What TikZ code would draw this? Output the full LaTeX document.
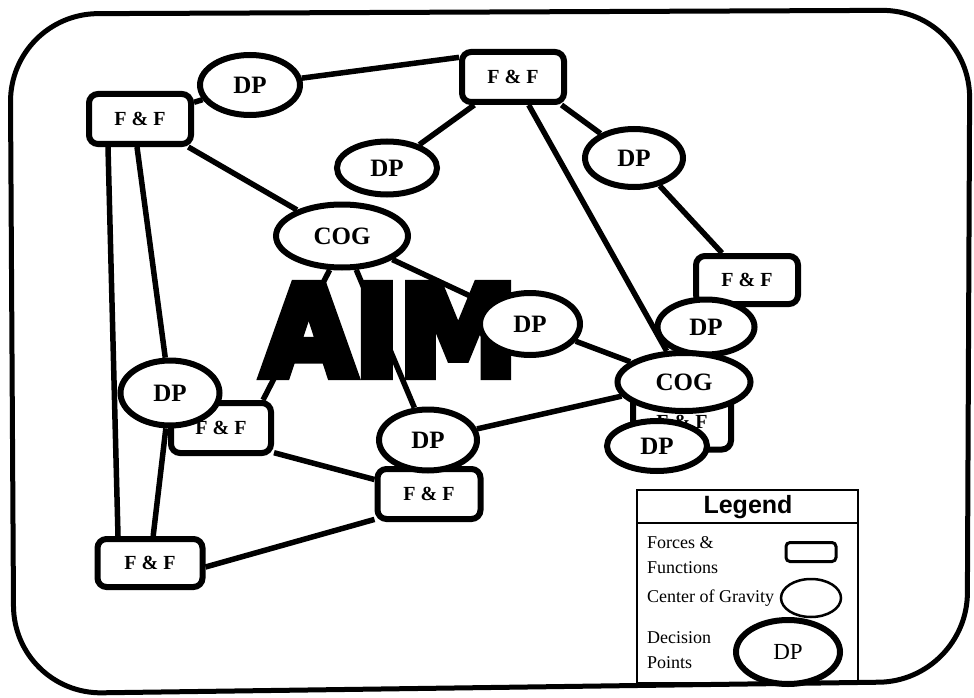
\documentclass[tikz,border=0pt]{standalone}
\usepackage{fontspec}
\setmainfont{Liberation Serif}
\newfontfamily\legendfont{Liberation Sans}
\newfontfamily\aimfont{DejaVu Sans}[BoldFeatures={FakeBold=8}]
\usetikzlibrary{shapes.geometric,backgrounds}

\tikzset{
  ff/.style={draw, line width=6pt, rounded corners=9pt, fill=white, minimum width=102pt,
    minimum height=50pt, inner sep=0pt, font=\fontsize{20}{24}\selectfont\bfseries},
  dp/.style={ellipse, draw, line width=6pt, fill=white, minimum width=100pt,
    minimum height=60pt, inner sep=0pt, font=\fontsize{25}{30}\selectfont\bfseries},
  cog/.style={dp, minimum width=132pt, minimum height=63pt},
  link/.style={line width=5.5pt},
  aimtext/.style={inner sep=0pt, font=\aimfont\bfseries\fontsize{124}{124}\selectfont},
  legtext/.style={inner sep=0pt, anchor=west, align=left, font=\fontsize{18}{25}\selectfont},
}

\begin{document}
\begin{tikzpicture}[x=1pt, y=-1pt]
\useasboundingbox (0,0) rectangle (974,698);

% nodes
\node[ff] (ff1) at (140,119) {F \& F};
\node[dp] (dp1) at (250,85) {DP};
\node[ff] (ff2) at (513,77) {F \& F};
\node[dp, minimum height=53pt] (dp2) at (387,168) {DP};
\node[cog] (cog1) at (342,236) {COG};
\node[dp, minimum width=98pt, minimum height=58pt] (dp3) at (634,158) {DP};
\node[ff, minimum height=48pt] (ff3) at (747,280) {F \& F};
\node[dp, minimum width=97pt, minimum height=55pt] (dp3b) at (706,327) {DP};
\node[ff, minimum width=98pt, minimum height=55pt] (ff4) at (682,422) {F \& F};
\node[cog, minimum width=133pt, minimum height=58pt] (cog2) at (684,382) {COG};
\node[dp, minimum height=50pt] (dp4) at (657,446) {DP};
\node[aimtext] (aim) at (390,330) {\scalebox{0.96}[1]{AIM}};
\node[dp, minimum height=62pt] (dp5) at (530,324) {DP};
\node[ff, minimum width=100pt] (ff5) at (221,428) {F \& F};
\node[dp, minimum width=99pt, minimum height=65pt] (dp6) at (170,393) {DP};
\node[ff, minimum width=103pt] (ff6) at (429,494) {F \& F};
\node[dp, minimum width=98pt, minimum height=61pt] (dp7) at (428,440) {DP};
\node[ff, minimum width=105pt, minimum height=48pt] (ff7) at (150,563) {F \& F};

% connectors
\begin{pgfonlayer}{background}
\draw[line width=5pt, rounded corners=88pt] (10,14) -- (970,10) -- (967,681) -- (14,694) -- cycle;
\draw[link] (ff1) -- (dp1);
\draw[link] (dp1) -- (ff2.160);
\draw[link] (ff2) -- (dp2);
\draw[link] (ff2.-30) -- (dp3);
\draw[link] (dp3) -- (ff3);
\draw[link] (ff2) -- (cog2);
\draw[link] (ff1) -- (cog1);
\draw[link] (cog1) -- (dp5);
\draw[link] (dp5) -- (cog2);
\draw[link] (cog2) -- (dp7);
\draw[link] (cog1) -- (dp7);
\draw[link] ([xshift=42pt]ff5.north) -- (cog1.250);
\draw[link] (ff5.-25) -- (ff6);
\draw[link] (ff6.205) -- ([yshift=-4pt]ff7.east);
\draw[link] ([xshift=-32pt]ff1.south) -- ([xshift=-32pt]ff7.north);
\draw[link] ([xshift=-3pt]ff1.south) -- (dp6);
\draw[link] (dp6) -- (ff7);
\end{pgfonlayer}

% legend
\draw[line width=2.5pt] (637,490) rectangle (858,683);
\draw[line width=2pt] (637,523) -- (858,523);
\node[inner sep=0pt, font=\legendfont\bfseries\fontsize{25}{30}\selectfont] (legtitle) at (748,507) {Legend};
\node[legtext] (legff) at (647,555) {Forces \&\\Functions};
\node[draw, line width=3pt, rounded corners=4pt, minimum width=50pt, minimum height=19pt] (legbox) at (811,552) {};
\node[legtext] (legcog) at (647,598) {Center of Gravity};
\node[ellipse, draw, line width=2.5pt, minimum width=60pt, minimum height=38pt] (legell) at (811,598) {};
\node[legtext] (legdp) at (647,650) {Decision\\Points};
\node[ellipse, draw, line width=6pt, fill=white, minimum width=104pt, minimum height=64pt,
  inner sep=0pt, font=\fontsize{23}{28}\selectfont] (legdpell) at (788,652) {DP};
\end{tikzpicture}
\end{document}
